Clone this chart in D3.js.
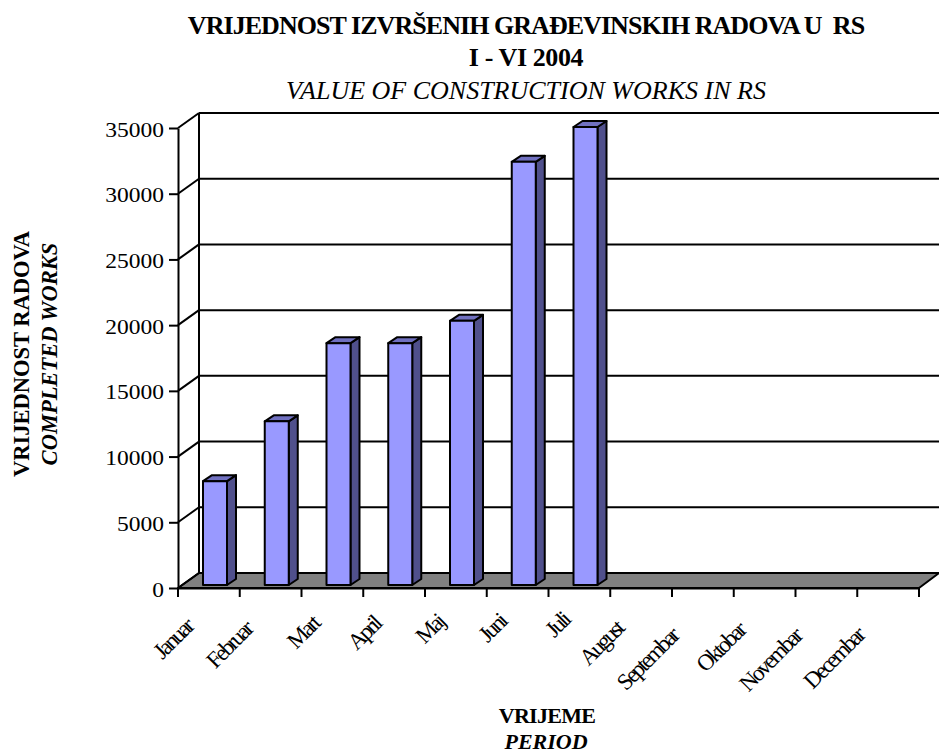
<!DOCTYPE html>
<html>
<head>
<meta charset="utf-8">
<script src="https://cdn.jsdelivr.net/npm/d3@7"></script>
<style>
html, body { margin: 0; padding: 0; background: #fff; }
svg { display: block; }
text { font-family: "Liberation Serif", serif; fill: #000; white-space: pre; }
</style>
</head>
<body>
<div id="chart"></div>
<script>
const months = ['Januar', 'Februar', 'Mart', 'April', 'Maj', 'Juni', 'Juli', 'August', 'Septembar', 'Oktobar', 'Novembar', 'Decembar'];
const values = [7900, 12450, 18400, 18400, 20100, 32200, 34850, null, null, null, null, null];
const yTicks = [0, 5000, 10000, 15000, 20000, 25000, 30000, 35000];
const titleLines = [
    { text: 'VRIJEDNOST IZVRŠENIH GRAĐEVINSKIH RADOVA U  RS', y: 34, bold: true, spacing: -0.95 },
    { text: 'I - VI 2004', y: 66, bold: true, spacing: -0.4 },
    { text: 'VALUE OF CONSTRUCTION WORKS IN RS', y: 99, italic: true, spacing: 0 }
];

const width = 939, height = 755;
const depthX = 21, depthY = 15;     // offset of the back wall
const barDepthX = 9, barDepthY = 6; // offset of each bar's own side
const baseDepthY = 3;

const svg = d3.select('#chart').append('svg')
    .attr('width', width)
    .attr('height', height);

const x = d3.scaleBand().domain(months).range([178, 919]).paddingInner(0).paddingOuter(0);
const y = d3.scaleLinear().domain([0, 35000]).range([588, 128]);

// Floor
svg.append('polygon')
    .attr('points', [
        [x.range()[0], y(0)],
        [x.range()[0] + depthX, y(0) - depthY],
        [x.range()[1] + 20, y(0) - depthY],
        [x.range()[1], y(0)]
    ].join(' '))
    .attr('fill', '#808080')
    .attr('stroke', '#000')
    .attr('stroke-width', 2)
    .attr('stroke-linejoin', 'round');

// Wall gridlines, with the short diagonal on the side wall
const grid = svg.append('g').attr('stroke', '#000').attr('stroke-width', 2);
yTicks.forEach(t => {
    if (t > 0) {
        grid.append('line')
            .attr('x1', x.range()[0] + depthX).attr('x2', width)
            .attr('y1', y(t) - depthY).attr('y2', y(t) - depthY);
    }
    grid.append('line')
        .attr('x1', x.range()[0]).attr('x2', x.range()[0] + depthX)
        .attr('y1', y(t)).attr('y2', y(t) - depthY);
});
grid.append('line')
    .attr('x1', x.range()[0] + depthX).attr('x2', x.range()[0] + depthX)
    .attr('y1', y(35000) - depthY).attr('y2', y(0) - depthY);

// Bars
const bars = svg.append('g').selectAll('g')
    .data(months.map((m, i) => ({ month: m, value: values[i] })).filter(d => d.value !== null))
    .join('g')
    .attr('stroke', '#000')
    .attr('stroke-width', 2)
    .attr('stroke-linejoin', 'round');

const barLeft = d => x(d.month) + 25;
const barWidth = 24;
const base = y(0) - baseDepthY;
const barTop = d => y(d.value) - baseDepthY;

bars.append('polygon')
    .attr('fill', '#50508c')
    .attr('points', d => {
        const r = barLeft(d) + barWidth;
        return [[r, barTop(d)], [r + barDepthX, barTop(d) - barDepthY], [r + barDepthX, base - barDepthY], [r, base]].join(' ');
    });
bars.append('polygon')
    .attr('fill', '#7070c0')
    .attr('points', d => {
        const l = barLeft(d), r = l + barWidth, t = barTop(d);
        return [[l, t], [l + barDepthX, t - barDepthY], [r + barDepthX, t - barDepthY], [r, t]].join(' ');
    });
bars.append('rect')
    .attr('fill', '#9999ff')
    .attr('x', barLeft)
    .attr('y', barTop)
    .attr('width', barWidth)
    .attr('height', d => base - barTop(d));

// Y axis, labels are a little wider than the font
const yAxis = svg.append('g')
    .attr('transform', `translate(${x.range()[0]},0)`)
    .call(d3.axisLeft(y).tickValues(yTicks).tickFormat(d3.format('d')).tickSize(9).tickSizeOuter(0));
yAxis.selectAll('path, line').attr('stroke', '#000').attr('stroke-width', 2);
yAxis.selectAll('text')
    .attr('x', null)
    .attr('dy', null)
    .attr('font-size', 21)
    .attr('text-anchor', 'end')
    .attr('transform', 'translate(-14,8) scale(1.12,1)')
    .style('font-family', '"Liberation Serif", serif');

// X axis
const xAxis = svg.append('g')
    .attr('transform', `translate(0,${y(0)})`)
    .call(d3.axisBottom(x).tickValues([]).tickSizeOuter(0));
xAxis.select('path').attr('stroke', '#000').attr('stroke-width', 2);
const tickEdges = months.map(m => x(m)).concat(x.range()[1]);
xAxis.selectAll('.edge')
    .data(tickEdges)
    .join('line')
    .attr('class', 'edge')
    .attr('x1', d => d).attr('x2', d => d)
    .attr('y1', 0).attr('y2', 9)
    .attr('stroke', '#000')
    .attr('stroke-width', 2);

xAxis.selectAll('.month')
    .data(months)
    .join('text')
    .attr('class', 'month')
    .attr('text-anchor', 'end')
    .attr('font-size', 23)
    .attr('letter-spacing', -2.5)
    .text(d => d)
    .attr('transform', function (d) {
        const len = this.getComputedTextLength();
        return `translate(${x(d) + 29 - 0.28 * len},${27 + 0.3 * len}) rotate(-45)`;
    });

// Titles
svg.append('g').selectAll('text')
    .data(titleLines)
    .join('text')
    .attr('text-anchor', 'middle')
    .attr('font-size', 26)
    .attr('font-weight', d => d.bold ? 'bold' : null)
    .attr('font-style', d => d.italic ? 'italic' : null)
    .attr('letter-spacing', d => d.spacing)
    .attr('x', 526)
    .attr('y', d => d.y)
    .text(d => d.text);

const xTitle = svg.append('g').attr('text-anchor', 'middle').attr('font-size', 22);
xTitle.append('text').attr('x', 547).attr('y', 723).attr('letter-spacing', -0.7).attr('font-weight', 'bold').text('VRIJEME');
xTitle.append('text').attr('x', 546).attr('y', 749).attr('font-weight', 'bold').attr('font-style', 'italic').text('PERIOD');

const yTitle = svg.append('g').attr('text-anchor', 'middle').attr('font-size', 22.5);
yTitle.append('text').attr('transform', 'translate(29,354) rotate(-90)').attr('font-weight', 'bold').text('VRIJEDNOST RADOVA');
yTitle.append('text').attr('transform', 'translate(57,354) rotate(-90)').attr('font-weight', 'bold').attr('font-style', 'italic').text('COMPLETED WORKS');
</script>
</body>
</html>
